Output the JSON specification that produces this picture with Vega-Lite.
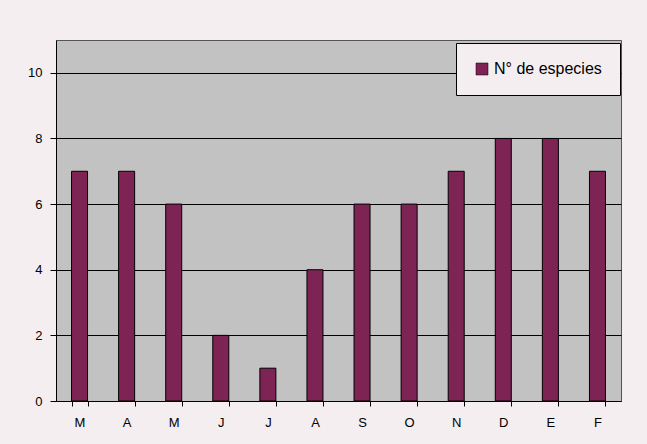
{
  "$schema": "https://vega.github.io/schema/vega-lite/v6.json",
  "width": 565,
  "height": 361,
  "autosize": {"type": "none"},
  "padding": {"left": 56, "top": 40, "right": 26, "bottom": 43},
  "background": "#f4eef0",
  "data": {
    "values": [
      {"mes": "Mar", "letra": "M", "especies": 7},
      {"mes": "Abr", "letra": "A", "especies": 7},
      {"mes": "May", "letra": "M", "especies": 6},
      {"mes": "Jun", "letra": "J", "especies": 2},
      {"mes": "Jul", "letra": "J", "especies": 1},
      {"mes": "Ago", "letra": "A", "especies": 4},
      {"mes": "Sep", "letra": "S", "especies": 6},
      {"mes": "Oct", "letra": "O", "especies": 6},
      {"mes": "Nov", "letra": "N", "especies": 7},
      {"mes": "Dic", "letra": "D", "especies": 8},
      {"mes": "Ene", "letra": "E", "especies": 8},
      {"mes": "Feb", "letra": "F", "especies": 7}
    ]
  },
  "config": {
    "view": {"fill": "#c2c2c2", "stroke": "#555555", "strokeWidth": 1},
    "font": "Liberation Sans",
    "axis": {
      "labelFont": "Liberation Sans",
      "labelFontSize": 13,
      "labelColor": "#000000",
      "domainColor": "#000000",
      "tickColor": "#000000",
      "gridColor": "#000000",
      "gridOpacity": 1,
      "gridWidth": 1,
      "tickSize": 5
    }
  },
  "mark": {"type": "bar", "stroke": "#000000", "strokeWidth": 1},
  "encoding": {
    "x": {
      "field": "mes",
      "type": "nominal",
      "sort": null,
      "scale": {"paddingInner": 0.66, "paddingOuter": 0.33},
      "axis": {
        "title": null,
        "labelAngle": 0,
        "labelExpr": "substring(datum.label, 0, 1)",
        "tickBand": "extent",
        "labelPadding": 10,
        "grid": false
      }
    },
    "y": {
      "field": "especies",
      "type": "quantitative",
      "scale": {"domain": [0, 11], "nice": false},
      "axis": {
        "title": null,
        "values": [0, 2, 4, 6, 8, 10],
        "grid": true,
        "labelPadding": 8,
        "tickSize": 6
      }
    },
    "color": {
      "datum": "N° de especies",
      "type": "nominal",
      "scale": {"range": ["#7e2455"]},
      "legend": {
        "title": null,
        "orient": "none",
        "legendX": 400,
        "legendY": 3,
        "symbolType": "square",
        "symbolSize": 144,
        "symbolStrokeColor": "#000000",
        "symbolStrokeWidth": 0.5,
        "labelOffset": 4,
        "labelFont": "Liberation Sans",
        "labelFontSize": 16,
        "labelColor": "#000000",
        "strokeColor": "#000000",
        "fillColor": "#f4eef0",
        "padding": 18
      }
    }
  }
}
